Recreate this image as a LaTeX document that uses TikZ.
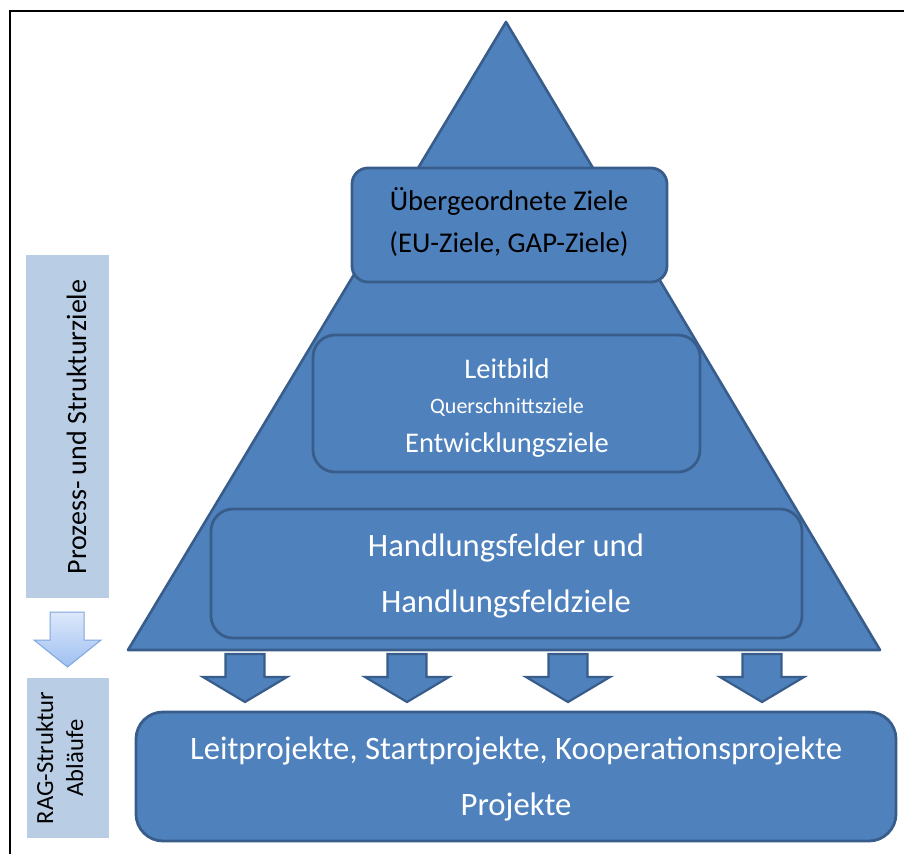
\documentclass[tikz,border=0pt]{standalone}
\usepackage{fontspec}
\setmainfont{Carlito}
\definecolor{bfill}{HTML}{4F81BD}
\definecolor{bdraw}{HTML}{385D8A}
\definecolor{barfill}{HTML}{B9CDE5}
\definecolor{ltop}{HTML}{DDE8FA}
\definecolor{lbot}{HTML}{9FC0F2}
\definecolor{ldraw}{HTML}{7FA6DE}
\begin{document}
\begin{tikzpicture}[x=1pt,y=-1pt,
  blue/.style={fill=bfill,draw=bdraw,line width=2.8pt,line join=round},
  box/.style={blue,rectangle},
  bar/.style={fill=barfill,draw=none},
  wtxt/.style={text=white,inner sep=0pt,anchor=base},
  btxt/.style={text=black,inner sep=0pt,anchor=base},
  blockarrow/.style={blue,line width=2.2pt,line join=miter}
]
\useasboundingbox (0,0) rectangle (904,854);
\fill[white] (0,0) rectangle (904,854);
% frame
\draw[line width=2.5pt] (10,854) -- (10,11) -- (904,11);
% pyramid
\draw[blue,line width=2.6pt] (128,650) -- (506,22) -- (880,650) -- cycle;
% boxes
\draw[box,rounded corners=16pt] (352,168) rectangle (667,282);
\draw[box,rounded corners=22pt] (313,335) rectangle (700,472);
\draw[box,rounded corners=22pt] (211,509) rectangle (802,638);
\draw[box,rounded corners=27pt] (136,712) rectangle (896,841);
% texts
\node[btxt,font=\fontsize{28.6}{34}\selectfont] (t1) at (509,210) {Übergeordnete Ziele};
\node[btxt,font=\fontsize{28.6}{34}\selectfont] (t2) at (509,252) {(EU-Ziele, GAP-Ziele)};
\node[wtxt,font=\fontsize{28.5}{34}\selectfont] (t3) at (507,378) {Leitbild};
\node[wtxt,font=\fontsize{22}{26}\selectfont] (t4) at (507,413) {Querschnittsziele};
\node[wtxt,font=\fontsize{28.5}{34}\selectfont] (t5) at (507,452) {Entwicklungsziele};
\node[wtxt,font=\fontsize{32.6}{38}\selectfont] (t6) at (506,556) {Handlungsfelder und};
\node[wtxt,font=\fontsize{32.6}{38}\selectfont] (t7) at (506,612) {Handlungsfeldziele};
\node[wtxt,font=\fontsize{32.7}{38}\selectfont] (t8) at (516,759) {Leitprojekte, Startprojekte, Kooperationsprojekte};
\node[wtxt,font=\fontsize{32.7}{38}\selectfont] (t9) at (516,815) {Projekte};
% down arrows
\foreach \cx in {245,407,568,762}{
  \draw[blockarrow] (\cx-19.5,654) -- (\cx+19.5,654) -- (\cx+19.5,677) -- (\cx+42,677)
    -- (\cx,702) -- (\cx-42,677) -- (\cx-19.5,677) -- cycle;
}
% left bars
\fill[bar] (26,255) rectangle (109,598);
\fill[bar] (27,678) rectangle (109,838);
\node[btxt,rotate=90,font=\fontsize{28}{33}\selectfont] (v1) at (86,427) {Prozess- und Strukturziele};
\node[btxt,rotate=90,font=\fontsize{24.6}{29}\selectfont] (v2) at (53,758) {RAG-Struktur};
\node[btxt,rotate=90,font=\fontsize{24.6}{29}\selectfont] (v3) at (83,758) {Abläufe};
% light arrow
\draw[top color=ltop,bottom color=lbot,draw=ldraw,line width=1pt,line join=miter]
  (50,612) -- (84,612) -- (84,640) -- (101,640) -- (67.5,667) -- (34,640) -- (50,640) -- cycle;
\end{tikzpicture}
\end{document}
